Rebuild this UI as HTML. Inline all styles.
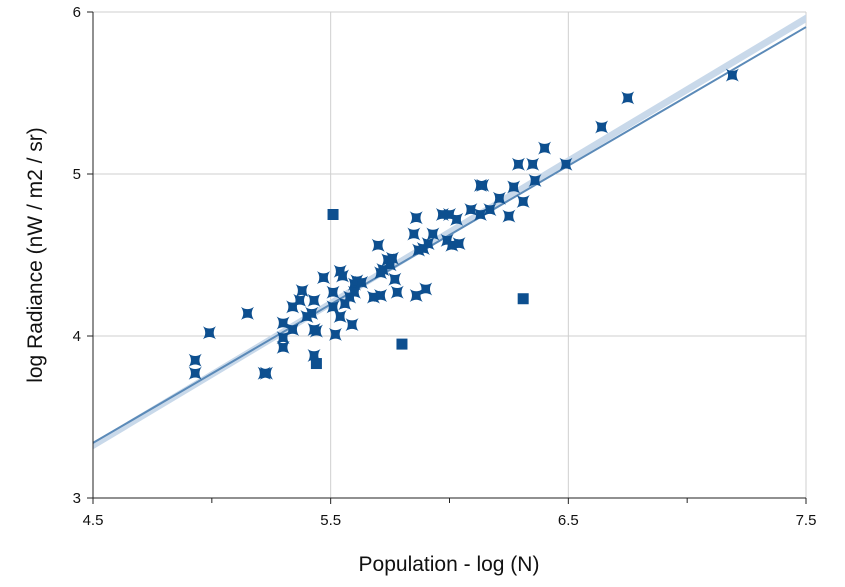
<!DOCTYPE html>
<html><head><meta charset="utf-8"><style>
body{margin:0;background:#fff}
svg{display:block;font-family:"Liberation Sans",Roboto,sans-serif}
</style></head><body>
<svg id="chart" width="845" height="587" viewBox="0 0 845 587" xmlns="http://www.w3.org/2000/svg">
<g id="grid"></g>
<g id="fit"></g>
<g id="pts"></g>
<g id="axes"></g>
<text x="449" y="571" font-size="21" text-anchor="middle" fill="#111">Population - log (N)</text>
<text transform="translate(42,255) rotate(-90)" font-size="21" text-anchor="middle" fill="#111">log Radiance (nW / m2 / sr)</text>
</svg>
<script>
const popX=[4.93,4.93,4.99,5.15,5.22,5.23,5.30,5.30,5.30,5.34,5.34,5.37,5.38,5.40,5.42,5.43,5.43,5.43,5.44,5.47,5.51,5.51,5.52,5.54,5.54,5.55,5.56,5.58,5.59,5.60,5.60,5.61,5.63,5.68,5.70,5.71,5.71,5.72,5.74,5.75,5.76,5.77,5.78,5.85,5.86,5.86,5.87,5.89,5.90,5.91,5.93,5.97,5.99,6.00,6.01,6.03,6.04,6.09,6.13,6.14,6.17,6.21,6.25,6.27,6.29,6.31,6.35,6.36,6.40,6.49,6.64,6.75,7.19,6.13];
const radY=[3.85,3.77,4.02,4.14,3.77,3.77,4.08,3.93,3.99,4.04,4.18,4.22,4.28,4.12,4.14,4.22,4.04,3.88,4.03,4.36,4.27,4.18,4.01,4.40,4.12,4.37,4.20,4.24,4.07,4.32,4.27,4.34,4.33,4.24,4.56,4.39,4.25,4.41,4.47,4.44,4.48,4.35,4.27,4.63,4.73,4.25,4.53,4.54,4.29,4.57,4.63,4.75,4.59,4.75,4.56,4.72,4.57,4.78,4.75,4.93,4.78,4.85,4.74,4.92,5.06,4.83,5.06,4.96,5.16,5.06,5.29,5.47,5.61,4.93];
const outX=[5.51,5.44,5.80,6.31];
const outY=[4.75,3.83,3.95,4.23];
const fitX=[4.5,7.5];
const fitY=[3.34,5.907];
const bandLo=[3.30,5.935];
const bandHi=[3.345,5.985];
const xTicks=[4.5,5.5,6.5,7.5];
const xMinor=[5,6,7];
const yTicks=[3,4,5,6];
const X0=93,X1=806,Y0=498,Y1=12;
const sx=v=>X0+(v-4.5)/3*(X1-X0);
const sy=v=>Y0-(v-3)/3*(Y0-Y1);
const NS="http://www.w3.org/2000/svg";
function mk(t,a,p){const e=document.createElementNS(NS,t);for(const k in a)e.setAttribute(k,a[k]);p.appendChild(e);return e;}
const grid=document.getElementById('grid'),axes=document.getElementById('axes'),fit=document.getElementById('fit'),pts=document.getElementById('pts');
xTicks.slice(1).forEach(v=>{const l=mk('line',{x1:sx(v),x2:sx(v),y1:Y1,y2:Y0,stroke:'#cfcfcf'},grid);

});
yTicks.slice(1).forEach(v=>{const l=mk('line',{x1:X0,x2:X1,y1:sy(v),y2:sy(v),stroke:'#cfcfcf'},grid);

});
mk('line',{x1:X0,x2:X0,y1:Y1,y2:Y0,stroke:'#222'},axes);
mk('line',{x1:X0,x2:X1,y1:Y0,y2:Y0,stroke:'#222'},axes);
xTicks.forEach(v=>{mk('line',{x1:sx(v),x2:sx(v),y1:Y0,y2:Y0+6,stroke:'#222'},axes);
const t=mk('text',{x:sx(v),y:Y0+27,'font-size':15,'text-anchor':'middle',fill:'#111'},axes);t.textContent=v.toFixed(1);

});
xMinor.forEach(v=>mk('line',{x1:sx(v),x2:sx(v),y1:Y0,y2:Y0+5,stroke:'#222'},axes));
yTicks.forEach(v=>{mk('line',{x1:X0-6,x2:X0,y1:sy(v),y2:sy(v),stroke:'#222'},axes);
const t=mk('text',{x:X0-12,y:sy(v)+5,'font-size':15,'text-anchor':'end',fill:'#111'},axes);t.textContent=v;

});
const band=mk('polygon',{points:`${sx(fitX[0])},${sy(bandLo[0])} ${sx(fitX[1])},${sy(bandLo[1])} ${sx(fitX[1])},${sy(bandHi[1])} ${sx(fitX[0])},${sy(bandHi[0])}`,fill:'#c9d9ea'},fit);


const fl=mk('line',{x1:sx(fitX[0]),y1:sy(fitY[0]),x2:sx(fitX[1]),y2:sy(fitY[1]),stroke:'#5b8ab8','stroke-width':2},fit);


const star="M-6.5,-6.5 Q0,-2 6.5,-6.5 Q2,0 6.5,6.5 Q0,2 -6.5,6.5 Q-2,0 -6.5,-6.5Z";
popX.forEach((v,i)=>{const p=mk('path',{d:star,transform:`translate(${sx(v)},${sy(radY[i])})`,fill:'#0d4f8f'},pts);

});
outX.forEach((v,i)=>{const r=mk('rect',{x:sx(v)-5.5,y:sy(outY[i])-5.5,width:11,height:11,fill:'#0d4f8f'},pts);

});
</script>
</body></html>
